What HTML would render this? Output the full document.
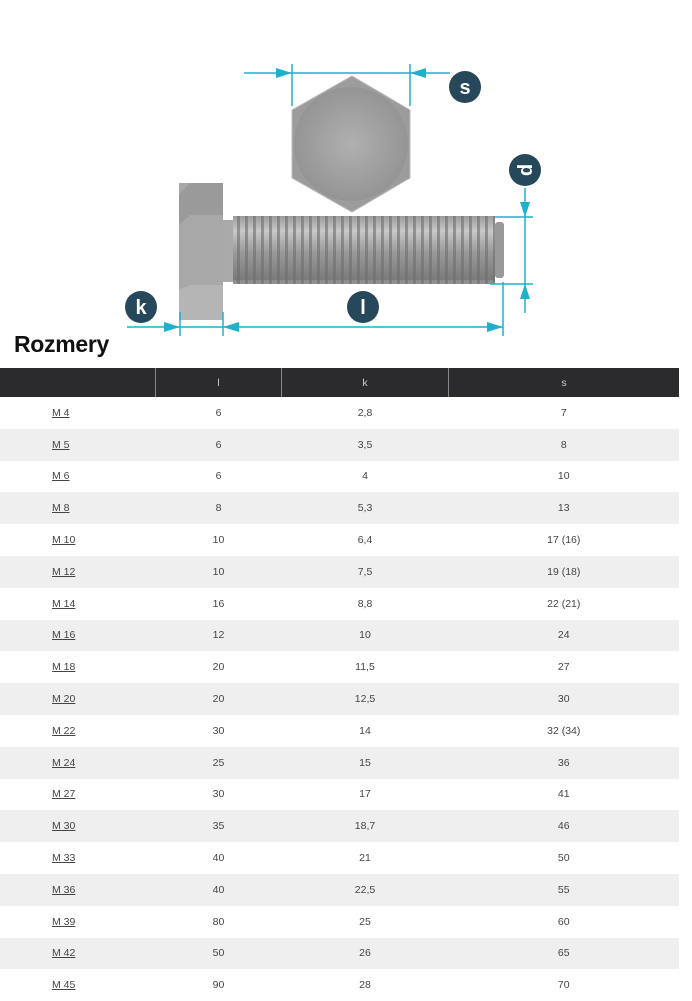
<!DOCTYPE html>
<html><head><meta charset="utf-8"><style>
body{margin:0;width:692px;height:1000px;background:#fff;font-family:"Liberation Sans",sans-serif;overflow:hidden;position:relative}
svg{position:absolute;left:0;top:0}
h1{position:absolute;left:14px;top:331px;margin:0;font-size:23px;font-weight:bold;color:#111;letter-spacing:-0.3px}
table{position:absolute;left:0;top:368px;width:679px;border-collapse:collapse;font-size:10.5px;color:#444}
th{background:#2b2b2e;color:#ccc;font-weight:normal;height:29px;border-left:1px solid #888;padding:0}
th:first-child{border-left:none}
td{height:31.8px;padding:0;text-align:center}
tr:nth-child(odd) td{background:#efefef}
td:first-child{text-align:left;padding-left:52px;text-decoration:underline}
</style></head><body>
<svg width="692" height="368" viewBox="0 0 692 368">
<defs><radialGradient id="g" cx="0.5" cy="0.5" r="0.6"><stop offset="0" stop-color="#b0b0b0"/><stop offset="1" stop-color="#8f8f8f"/></radialGradient>
<linearGradient id="t" x1="0" y1="0" x2="0" y2="1"><stop offset="0" stop-color="#8a8a8a"/><stop offset="0.3" stop-color="#c8c8c8"/><stop offset="0.6" stop-color="#9a9a9a"/><stop offset="1" stop-color="#7a7a7a"/></linearGradient>
<pattern id="th" width="8" height="70" patternUnits="userSpaceOnUse"><rect width="8" height="70" fill="url(#t)"/><rect x="5" width="3" height="70" fill="#6e6e6e" opacity="0.6"/></pattern></defs>
<polygon points="352,76 410,110 410,178 352,212 292,178 292,110" fill="#9c9c9c" stroke="#bbb"/>
<circle cx="351" cy="144" r="57" fill="url(#g)"/>
<rect x="179" y="183" width="44" height="137" fill="#a8a8a8"/>
<polygon points="179,195 190,183 223,183 223,215 190,215 179,225" fill="#9a9a9a"/>
<polygon points="179,290 190,285 223,285 223,320 179,320" fill="#b5b5b5"/>
<rect x="223" y="220" width="10" height="62" fill="#aaa"/>
<rect x="233" y="216" width="262" height="68" fill="url(#th)"/>
<rect x="495" y="222" width="9" height="56" fill="#999" rx="3"/>
<g stroke="#1fb0cc" stroke-width="1.5" fill="#1fb0cc">
<line x1="244" y1="73" x2="450" y2="73"/><line x1="292" y1="64" x2="292" y2="106"/><line x1="410" y1="64" x2="410" y2="106"/>
<polygon points="292,73 276,68 276,78" stroke="none"/><polygon points="410,73 426,68 426,78" stroke="none"/>
<line x1="525" y1="188" x2="525" y2="313"/><line x1="495" y1="217" x2="533" y2="217"/><line x1="490" y1="284" x2="533" y2="284"/>
<polygon points="525,217 520,202 530,202" stroke="none"/><polygon points="525,284 520,299 530,299" stroke="none"/>
<line x1="127" y1="327" x2="503" y2="327"/><line x1="180" y1="312" x2="180" y2="336"/><line x1="223" y1="312" x2="223" y2="336"/><line x1="503" y1="282" x2="503" y2="336"/>
<polygon points="180,327 164,322 164,332" stroke="none"/><polygon points="223,327 239,322 239,332" stroke="none"/><polygon points="503,327 487,322 487,332" stroke="none"/>
</g>
<g fill="#27485a"><circle cx="465" cy="87" r="16"/><circle cx="525" cy="170" r="16"/><circle cx="363" cy="307" r="16"/><circle cx="141" cy="307" r="16"/></g>
<g fill="#fff" font-weight="bold" font-size="20" text-anchor="middle" font-family="Liberation Sans,sans-serif">
<text x="465" y="94">s</text><text x="525" y="177" transform="rotate(-90 525 170)">d</text><text x="363" y="314">l</text><text x="141" y="314">k</text></g>
</svg>
<h1>Rozmery</h1>
<table>
<tr><th style="width:155px"></th><th style="width:125px">l</th><th style="width:166px">k</th><th>s</th></tr>
<tr><td>M 4</td><td>6</td><td>2,8</td><td>7</td></tr>
<tr><td>M 5</td><td>6</td><td>3,5</td><td>8</td></tr>
<tr><td>M 6</td><td>6</td><td>4</td><td>10</td></tr>
<tr><td>M 8</td><td>8</td><td>5,3</td><td>13</td></tr>
<tr><td>M 10</td><td>10</td><td>6,4</td><td>17 (16)</td></tr>
<tr><td>M 12</td><td>10</td><td>7,5</td><td>19 (18)</td></tr>
<tr><td>M 14</td><td>16</td><td>8,8</td><td>22 (21)</td></tr>
<tr><td>M 16</td><td>12</td><td>10</td><td>24</td></tr>
<tr><td>M 18</td><td>20</td><td>11,5</td><td>27</td></tr>
<tr><td>M 20</td><td>20</td><td>12,5</td><td>30</td></tr>
<tr><td>M 22</td><td>30</td><td>14</td><td>32 (34)</td></tr>
<tr><td>M 24</td><td>25</td><td>15</td><td>36</td></tr>
<tr><td>M 27</td><td>30</td><td>17</td><td>41</td></tr>
<tr><td>M 30</td><td>35</td><td>18,7</td><td>46</td></tr>
<tr><td>M 33</td><td>40</td><td>21</td><td>50</td></tr>
<tr><td>M 36</td><td>40</td><td>22,5</td><td>55</td></tr>
<tr><td>M 39</td><td>80</td><td>25</td><td>60</td></tr>
<tr><td>M 42</td><td>50</td><td>26</td><td>65</td></tr>
<tr><td>M 45</td><td>90</td><td>28</td><td>70</td></tr>
</table>
</body></html>
